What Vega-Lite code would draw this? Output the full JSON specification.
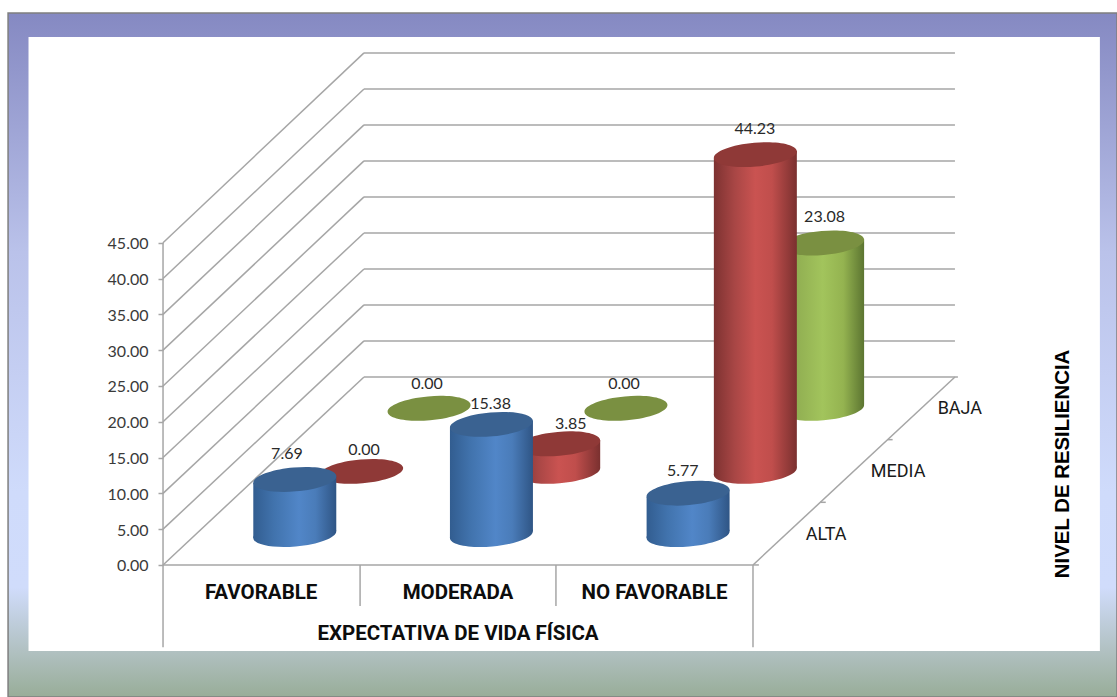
{"$schema":"https://vega.github.io/schema/vega-lite/v6.json","width":1117,"height":697,"padding":0,"autosize":"none","background":"white","config":{"view":{"stroke":null},"axis":{"grid":false,"labelFont":"Lato","labelFontSize":16,"labelColor":"#3a3a3a","labelOffset":1}},
"datasets":{
"cil":[
{"categoria":"FAVORABLE","nivel":"ALTA","valor":7.69,"xc":0.670,"base":4.25,"tope":11.94},
{"categoria":"MODERADA","nivel":"ALTA","valor":15.38,"xc":1.670,"base":4.25,"tope":19.63},
{"categoria":"NO FAVORABLE","nivel":"ALTA","valor":5.77,"xc":2.670,"base":4.25,"tope":10.02},
{"categoria":"FAVORABLE","nivel":"MEDIA","valor":0,"xc":1.010,"base":13.07,"tope":13.07},
{"categoria":"MODERADA","nivel":"MEDIA","valor":3.85,"xc":2.012,"base":13.07,"tope":16.92},
{"categoria":"NO FAVORABLE","nivel":"MEDIA","valor":44.23,"xc":3.012,"base":13.07,"tope":57.30},
{"categoria":"FAVORABLE","nivel":"BAJA","valor":0,"xc":1.353,"base":21.88,"tope":21.88},
{"categoria":"MODERADA","nivel":"BAJA","valor":0,"xc":2.354,"base":21.88,"tope":21.88},
{"categoria":"NO FAVORABLE","nivel":"BAJA","valor":23.08,"xc":3.354,"base":21.88,"tope":44.96}],
"cuerpo":[
{"id":"FA","nivel":"ALTA","x":0.459,"tope":11.44,"base":3.75},{"id":"FA","nivel":"ALTA","x":0.881,"tope":12.44,"base":4.75},
{"id":"MA","nivel":"ALTA","x":1.459,"tope":19.13,"base":3.75},{"id":"MA","nivel":"ALTA","x":1.881,"tope":20.13,"base":4.75},
{"id":"NA","nivel":"ALTA","x":2.459,"tope":9.52,"base":3.75},{"id":"NA","nivel":"ALTA","x":2.881,"tope":10.52,"base":4.75},
{"id":"MM","nivel":"MEDIA","x":1.801,"tope":16.42,"base":12.57},{"id":"MM","nivel":"MEDIA","x":2.223,"tope":17.42,"base":13.57},
{"id":"NM","nivel":"MEDIA","x":2.801,"tope":56.80,"base":12.57},{"id":"NM","nivel":"MEDIA","x":3.223,"tope":57.80,"base":13.57},
{"id":"NB","nivel":"BAJA","x":3.143,"tope":44.46,"base":21.38},{"id":"NB","nivel":"BAJA","x":3.565,"tope":45.46,"base":22.38}],
"lineas":[
{"x":0,"x2":1.022,"y":0,"y2":26.26},{"x":0,"x2":1.022,"y":5,"y2":31.29},{"x":0,"x2":1.022,"y":10,"y2":36.32},{"x":0,"x2":1.022,"y":15,"y2":41.34},{"x":0,"x2":1.022,"y":20,"y2":46.37},{"x":0,"x2":1.022,"y":25,"y2":51.40},{"x":0,"x2":1.022,"y":30,"y2":56.43},{"x":0,"x2":1.022,"y":35,"y2":61.46},{"x":0,"x2":1.022,"y":40,"y2":66.48},{"x":0,"x2":1.022,"y":45,"y2":71.51},
{"x":1.022,"x2":4.042,"y":26.26,"y2":26.26},{"x":1.022,"x2":4.027,"y":31.29,"y2":31.29},{"x":1.022,"x2":4.027,"y":36.32,"y2":36.32},{"x":1.022,"x2":4.027,"y":41.34,"y2":41.34},{"x":1.022,"x2":4.027,"y":46.37,"y2":46.37},{"x":1.022,"x2":4.027,"y":51.40,"y2":51.40},{"x":1.022,"x2":4.027,"y":56.43,"y2":56.43},{"x":1.022,"x2":4.027,"y":61.46,"y2":61.46},{"x":1.022,"x2":4.027,"y":66.48,"y2":66.48},{"x":1.022,"x2":4.027,"y":71.51,"y2":71.51},
{"x":0,"x2":0,"y":-11.5,"y2":45},{"x":3,"x2":3,"y":-11.5,"y2":0},{"x":0,"x2":3,"y":0,"y2":0},{"x":3,"x2":4.027,"y":0,"y2":26.26},
{"x":1.002,"x2":1.002,"y":-5.73,"y2":0},{"x":1.998,"x2":1.998,"y":-5.73,"y2":0},
{"x":3,"x2":3.03,"y":0,"y2":0},{"x":3.342,"x2":3.37,"y":8.75,"y2":8.75},{"x":3.685,"x2":3.71,"y":17.5,"y2":17.5}],
"etiquetas":[
{"valor":7.69,"x":0.630,"y":15.68},{"valor":0,"x":1.022,"y":16.2},{"valor":0,"x":1.342,"y":25.42},{"valor":15.38,"x":1.666,"y":22.63},{"valor":3.85,"x":2.073,"y":19.83},{"valor":0,"x":2.344,"y":25.42},{"valor":44.23,"x":3.010,"y":61.03},{"valor":23.08,"x":3.364,"y":48.79},{"valor":5.77,"x":2.643,"y":13.27}]
},
"layer":[
{"data":{"values":[{"x":-0.788,"x2":4.851,"y":77.09,"y2":-18.44}]},"mark":{"type":"rect","stroke":"#7f7f7f","strokeWidth":1.5,"fill":{"x1":0,"y1":0,"x2":0,"y2":1,"gradient":"linear","stops":[{"offset":0,"color":"#8589c2"},{"offset":0.35,"color":"#bac2ea"},{"offset":0.7,"color":"#cfdbfb"},{"offset":0.84,"color":"#d0dcfb"},{"offset":0.935,"color":"#b0c0c0"},{"offset":1,"color":"#98ad98"}]}},
"encoding":{"x":{"field":"x","type":"quantitative","axis":null,"scale":{"domain":[-0.829,4.851],"nice":false,"zero":false}},"x2":{"field":"x2"},"y":{"field":"y","type":"quantitative","scale":{"domain":[-18.44,78.9],"nice":false,"zero":false},"axis":{"title":null,"orient":"left","offset":-163,"values":[0,5,10,15,20,25,30,35,40,45],"format":".2f","grid":false,"domain":false,"ticks":true,"tickSize":5,"tickColor":"#a6a6a6","tickWidth":1.5,"labelPadding":10,"labelOverlap":false,"zindex":1}},"y2":{"field":"y2"}}},
{"data":{"values":[{"x":-0.684,"x2":4.764,"y":73.74,"y2":-12.01}]},"mark":{"type":"rect","fill":"#ffffff"},
"encoding":{"x":{"field":"x","type":"quantitative","axis":null,"scale":{"domain":[-0.829,4.851],"nice":false,"zero":false}},"x2":{"field":"x2"},"y":{"field":"y","type":"quantitative","title":null,"scale":{"domain":[-18.44,78.9],"nice":false,"zero":false}},"y2":{"field":"y2"}}},
{"data":{"name":"lineas"},"mark":{"type":"rule","color":"#a6a6a6","strokeWidth":1.5},
"encoding":{"x":{"field":"x","type":"quantitative","axis":null,"scale":{"domain":[-0.829,4.851],"nice":false,"zero":false}},"x2":{"field":"x2"},"y":{"field":"y","type":"quantitative","title":null,"scale":{"domain":[-18.44,78.9],"nice":false,"zero":false}},"y2":{"field":"y2"}}},

{"data":{"name":"cuerpo"},"transform":[{"filter":"datum.nivel=='BAJA'"}],"mark":{"type":"area","orient":"vertical","fill":{"x1":0,"y1":0,"x2":1,"y2":0,"gradient":"linear","stops":[{"offset":0,"color":"#87a24c"},{"offset":0.5,"color":"#a2c45c"},{"offset":0.75,"color":"#94b350"},{"offset":1,"color":"#5c7531"}]}},
"encoding":{"x":{"field":"x","type":"quantitative","axis":null,"scale":{"domain":[-0.829,4.851],"nice":false,"zero":false}},"y":{"field":"tope","type":"quantitative","stack":null,"title":null,"scale":{"domain":[-18.44,78.9],"nice":false,"zero":false}},"y2":{"field":"base"},"detail":{"field":"id"}}},
{"data":{"name":"cil"},"transform":[{"filter":"datum.nivel=='BAJA' && datum.valor>0"}],"mark":{"type":"point","filled":true,"opacity":1,"size":6889,"shape":"M0.9997,-0.0875C1.0136,0.071,0.5772,0.2386,0.0251,0.2869C-0.527,0.3352,-0.9858,0.246,-0.9997,0.0875C-1.0136,-0.071,-0.5772,-0.2386,-0.0251,-0.2869C0.527,-0.3352,0.9858,-0.246,0.9997,-0.0875Z","fill":{"x1":0,"y1":0,"x2":1,"y2":0,"gradient":"linear","stops":[{"offset":0,"color":"#87a24c"},{"offset":0.5,"color":"#a2c45c"},{"offset":0.75,"color":"#94b350"},{"offset":1,"color":"#5c7531"}]}},
"encoding":{"x":{"field":"xc","type":"quantitative","axis":null,"scale":{"domain":[-0.829,4.851],"nice":false,"zero":false}},"y":{"field":"base","type":"quantitative","title":null,"scale":{"domain":[-18.44,78.9],"nice":false,"zero":false}}}},
{"data":{"name":"cil"},"transform":[{"filter":"datum.nivel=='BAJA'"}],"mark":{"type":"point","filled":true,"opacity":1,"size":6889,"shape":"M0.9997,-0.0875C1.0136,0.071,0.5772,0.2386,0.0251,0.2869C-0.527,0.3352,-0.9858,0.246,-0.9997,0.0875C-1.0136,-0.071,-0.5772,-0.2386,-0.0251,-0.2869C0.527,-0.3352,0.9858,-0.246,0.9997,-0.0875Z","fill":"#7a9041"},
"encoding":{"x":{"field":"xc","type":"quantitative","axis":null,"scale":{"domain":[-0.829,4.851],"nice":false,"zero":false}},"y":{"field":"tope","type":"quantitative","title":null,"scale":{"domain":[-18.44,78.9],"nice":false,"zero":false}}}},

{"data":{"name":"cuerpo"},"transform":[{"filter":"datum.nivel=='MEDIA'"}],"mark":{"type":"area","orient":"vertical","fill":{"x1":0,"y1":0,"x2":1,"y2":0,"gradient":"linear","stops":[{"offset":0,"color":"#7d3231"},{"offset":0.25,"color":"#a84645"},{"offset":0.5,"color":"#ca5351"},{"offset":0.7,"color":"#c04e4c"},{"offset":1,"color":"#7a302f"}]}},
"encoding":{"x":{"field":"x","type":"quantitative","axis":null,"scale":{"domain":[-0.829,4.851],"nice":false,"zero":false}},"y":{"field":"tope","type":"quantitative","stack":null,"title":null,"scale":{"domain":[-18.44,78.9],"nice":false,"zero":false}},"y2":{"field":"base"},"detail":{"field":"id"}}},
{"data":{"name":"cil"},"transform":[{"filter":"datum.nivel=='MEDIA' && datum.valor>0"}],"mark":{"type":"point","filled":true,"opacity":1,"size":6889,"shape":"M0.9997,-0.0875C1.0136,0.071,0.5772,0.2386,0.0251,0.2869C-0.527,0.3352,-0.9858,0.246,-0.9997,0.0875C-1.0136,-0.071,-0.5772,-0.2386,-0.0251,-0.2869C0.527,-0.3352,0.9858,-0.246,0.9997,-0.0875Z","fill":{"x1":0,"y1":0,"x2":1,"y2":0,"gradient":"linear","stops":[{"offset":0,"color":"#7d3231"},{"offset":0.25,"color":"#a84645"},{"offset":0.5,"color":"#ca5351"},{"offset":0.7,"color":"#c04e4c"},{"offset":1,"color":"#7a302f"}]}},
"encoding":{"x":{"field":"xc","type":"quantitative","axis":null,"scale":{"domain":[-0.829,4.851],"nice":false,"zero":false}},"y":{"field":"base","type":"quantitative","title":null,"scale":{"domain":[-18.44,78.9],"nice":false,"zero":false}}}},
{"data":{"name":"cil"},"transform":[{"filter":"datum.nivel=='MEDIA'"}],"mark":{"type":"point","filled":true,"opacity":1,"size":6889,"shape":"M0.9997,-0.0875C1.0136,0.071,0.5772,0.2386,0.0251,0.2869C-0.527,0.3352,-0.9858,0.246,-0.9997,0.0875C-1.0136,-0.071,-0.5772,-0.2386,-0.0251,-0.2869C0.527,-0.3352,0.9858,-0.246,0.9997,-0.0875Z","fill":"#8f3937"},
"encoding":{"x":{"field":"xc","type":"quantitative","axis":null,"scale":{"domain":[-0.829,4.851],"nice":false,"zero":false}},"y":{"field":"tope","type":"quantitative","title":null,"scale":{"domain":[-18.44,78.9],"nice":false,"zero":false}}}},

{"data":{"name":"cuerpo"},"transform":[{"filter":"datum.nivel=='ALTA'"}],"mark":{"type":"area","orient":"vertical","fill":{"x1":0,"y1":0,"x2":1,"y2":0,"gradient":"linear","stops":[{"offset":0,"color":"#325d90"},{"offset":0.25,"color":"#4173ad"},{"offset":0.55,"color":"#5186c8"},{"offset":0.75,"color":"#4a7cb9"},{"offset":1,"color":"#2f5585"}]}},
"encoding":{"x":{"field":"x","type":"quantitative","axis":null,"scale":{"domain":[-0.829,4.851],"nice":false,"zero":false}},"y":{"field":"tope","type":"quantitative","stack":null,"title":null,"scale":{"domain":[-18.44,78.9],"nice":false,"zero":false}},"y2":{"field":"base"},"detail":{"field":"id"}}},
{"data":{"name":"cil"},"transform":[{"filter":"datum.nivel=='ALTA'"}],"mark":{"type":"point","filled":true,"opacity":1,"size":6889,"shape":"M0.9997,-0.0875C1.0136,0.071,0.5772,0.2386,0.0251,0.2869C-0.527,0.3352,-0.9858,0.246,-0.9997,0.0875C-1.0136,-0.071,-0.5772,-0.2386,-0.0251,-0.2869C0.527,-0.3352,0.9858,-0.246,0.9997,-0.0875Z","fill":{"x1":0,"y1":0,"x2":1,"y2":0,"gradient":"linear","stops":[{"offset":0,"color":"#325d90"},{"offset":0.25,"color":"#4173ad"},{"offset":0.55,"color":"#5186c8"},{"offset":0.75,"color":"#4a7cb9"},{"offset":1,"color":"#2f5585"}]}},
"encoding":{"x":{"field":"xc","type":"quantitative","axis":null,"scale":{"domain":[-0.829,4.851],"nice":false,"zero":false}},"y":{"field":"base","type":"quantitative","title":null,"scale":{"domain":[-18.44,78.9],"nice":false,"zero":false}}}},
{"data":{"name":"cil"},"transform":[{"filter":"datum.nivel=='ALTA'"}],"mark":{"type":"point","filled":true,"opacity":1,"size":6889,"shape":"M0.9997,-0.0875C1.0136,0.071,0.5772,0.2386,0.0251,0.2869C-0.527,0.3352,-0.9858,0.246,-0.9997,0.0875C-1.0136,-0.071,-0.5772,-0.2386,-0.0251,-0.2869C0.527,-0.3352,0.9858,-0.246,0.9997,-0.0875Z","fill":"#3a6291"},
"encoding":{"x":{"field":"xc","type":"quantitative","axis":null,"scale":{"domain":[-0.829,4.851],"nice":false,"zero":false}},"y":{"field":"tope","type":"quantitative","title":null,"scale":{"domain":[-18.44,78.9],"nice":false,"zero":false}}}},

{"data":{"name":"etiquetas"},"mark":{"type":"text","font":"Lato","fontSize":16,"dy":1,"color":"#2a2a2a","align":"center","baseline":"middle"},
"encoding":{"x":{"field":"x","type":"quantitative","axis":null,"scale":{"domain":[-0.829,4.851],"nice":false,"zero":false}},"y":{"field":"y","type":"quantitative","title":null,"scale":{"domain":[-18.44,78.9],"nice":false,"zero":false}},"text":{"field":"valor","type":"quantitative","format":".2f"}}},

{"data":{"values":[{"t":"FAVORABLE","x":0.499,"y":-3.77},{"t":"MODERADA","x":1.5,"y":-3.77},{"t":"NO FAVORABLE","x":2.499,"y":-3.77},{"t":"EXPECTATIVA DE VIDA FÍSICA","x":1.5,"y":-9.5}]},"mark":{"type":"text","font":"Roboto","fontWeight":"bold","fontSize":20.5,"dy":1,"color":"#0d0d0d","align":"center","baseline":"middle"},
"encoding":{"x":{"field":"x","type":"quantitative","axis":null,"scale":{"domain":[-0.829,4.851],"nice":false,"zero":false}},"y":{"field":"y","type":"quantitative","title":null,"scale":{"domain":[-18.44,78.9],"nice":false,"zero":false}},"text":{"field":"t"}}},
{"data":{"values":[{"t":"ALTA","x":3.372,"y":4.33},{"t":"MEDIA","x":3.738,"y":13.16},{"t":"BAJA","x":4.052,"y":21.9}]},"mark":{"type":"text","font":"Roboto","fontSize":18,"dy":1,"color":"#1a1a1a","align":"center","baseline":"middle"},
"encoding":{"x":{"field":"x","type":"quantitative","axis":null,"scale":{"domain":[-0.829,4.851],"nice":false,"zero":false}},"y":{"field":"y","type":"quantitative","title":null,"scale":{"domain":[-18.44,78.9],"nice":false,"zero":false}},"text":{"field":"t"}}},
{"data":{"values":[{"t":"NIVEL DE RESILIENCIA","x":4.576,"y":14.11}]},"mark":{"type":"text","font":"Liberation Sans","fontWeight":"bold","fontSize":20.4,"angle":270,"color":"#000000","align":"center","baseline":"middle"},
"encoding":{"x":{"field":"x","type":"quantitative","axis":null,"scale":{"domain":[-0.829,4.851],"nice":false,"zero":false}},"y":{"field":"y","type":"quantitative","title":null,"scale":{"domain":[-18.44,78.9],"nice":false,"zero":false}},"text":{"field":"t"}}}
]}
